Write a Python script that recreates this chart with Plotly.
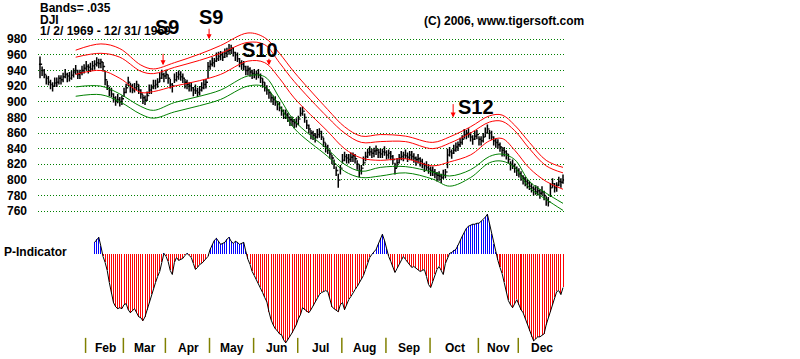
import plotly.graph_objects as go

W, H_REF = 800, 359
H = 367          # rendered height; layout positions below are given as fractions of the 359 px reference
ML, MR = 38, 235
PW = W - ML - MR

# ---------------- DJI 1969 daily bars ----------------
close = [
    948, 940, 935, 930, 925, 922, 920, 924, 925, 930, 928, 932, 935, 933, 930, 934, 938, 940, 935, 937, 940, 943,
    945, 944, 942, 946, 948, 950, 949, 951, 945, 928, 920, 915, 910, 905, 902, 903, 900, 904,
    912, 918, 925, 920, 915, 918, 922, 915, 910, 905, 902, 908, 915, 918, 920, 922, 925, 930, 935, 933,
    935, 930, 922, 920, 928, 932, 935, 932, 930, 925, 922, 920, 918, 915, 914, 912, 915, 918, 922, 925, 945,
    948, 950, 952, 955, 958, 960, 957, 962, 965, 966, 968, 963, 960, 955, 950, 948, 945, 940, 942, 938, 936,
    935, 936, 934, 930, 925, 918, 915, 912, 905, 903, 900, 897, 892, 888, 885, 883, 880, 877, 875, 873, 872,
    878, 885, 888, 880, 870, 865, 860, 857, 855, 858, 862, 855, 848, 842, 838, 833, 828, 820, 812, 800, 815,
    825, 830, 828, 826, 829, 831, 827, 820, 812, 815, 822, 830, 835, 836, 834, 837, 838, 835, 833, 836, 835,
    832, 834, 830, 826, 815, 822, 828, 830, 832, 831, 829, 832, 830, 828, 826, 827, 824, 820, 818, 816, 814,
    812, 810, 808, 806, 805, 803, 806, 810, 832, 836, 834, 838, 842, 845, 848, 852, 858, 860, 858, 855, 852, 856, 858,
    852, 850, 855, 860, 865, 860, 855, 850, 848, 845, 842, 838, 836, 833, 826, 820, 818, 815, 812,
    808, 805, 802, 798, 796, 792, 790, 788, 785, 786, 783, 785, 780, 775, 772, 790, 795, 790, 793, 798, 797, 800,
]
high = [
    958, 945, 942, 934, 933, 928, 925, 931, 931, 934, 934, 937, 942, 937, 938, 940, 943, 947, 941, 941, 946, 948,
    952, 948, 950, 952, 953, 957, 955, 955, 951, 940, 927, 919, 918, 911, 907, 910, 906, 908,
    918, 923, 932, 924, 923, 924, 927, 922, 916, 909, 908, 913, 922, 922, 928, 928, 930, 937, 941, 937,
    941, 935, 929, 924, 936, 938, 940, 939, 936, 929, 928, 925, 925, 919, 922, 918, 920, 925, 928, 929, 951,
    953, 957, 956, 963, 964, 965, 964, 968, 969, 974, 973, 970, 964, 963, 956, 953, 952, 946, 946, 944, 941,
    942, 940, 942, 936, 930, 925, 921, 916, 911, 908, 907, 901, 900, 894, 890, 890, 886, 881, 881, 878, 879,
    882, 893, 894, 885, 877, 871, 864, 863, 860, 865, 866, 863, 854, 847, 845, 839, 832, 826, 817, 808, 819,
    833, 836, 833, 833, 835, 835, 833, 825, 819, 819, 830, 836, 840, 843, 840, 841, 844, 840, 840, 840, 843,
    838, 839, 837, 832, 822, 828, 833, 837, 836, 839, 835, 837, 837, 834, 830, 833, 829, 827, 822, 824, 820,
    817, 817, 814, 810, 811, 808, 813, 814, 840, 842, 839, 845, 848, 849, 854, 857, 865, 864, 866, 861, 857, 863, 864,
    856, 856, 860, 867, 871, 864, 863, 856, 853, 852, 848, 842, 842, 838, 833, 824, 826, 821, 817,
    815, 811, 806, 804, 801, 799, 796, 792, 793, 792, 788, 792, 786, 779, 778, 796, 802, 796, 797, 804, 802, 807,
]
low = [
    930, 933, 930, 922, 921, 916, 913, 919, 919, 922, 922, 925, 930, 925, 926, 928, 931, 935, 929, 929, 934, 936,
    940, 936, 938, 940, 941, 945, 943, 943, 939, 921, 915, 907, 906, 899, 895, 898, 894, 896,
    906, 911, 920, 912, 911, 912, 915, 910, 904, 897, 896, 901, 910, 910, 916, 916, 918, 925, 929, 925,
    929, 923, 917, 912, 924, 926, 928, 927, 924, 917, 916, 913, 913, 907, 910, 906, 908, 913, 916, 917, 930,
    941, 945, 944, 951, 952, 953, 952, 956, 957, 960, 961, 958, 952, 951, 944, 941, 940, 934, 934, 932, 929,
    930, 928, 930, 924, 918, 913, 909, 904, 899, 896, 895, 889, 888, 882, 878, 878, 874, 869, 869, 866, 867,
    870, 881, 882, 873, 865, 859, 852, 851, 848, 853, 854, 851, 842, 835, 833, 827, 820, 814, 805, 790, 807,
    821, 824, 821, 821, 823, 823, 821, 813, 803, 807, 818, 824, 828, 831, 828, 829, 832, 828, 828, 828, 831,
    826, 827, 825, 820, 807, 816, 821, 825, 824, 827, 823, 825, 825, 822, 818, 821, 817, 815, 810, 812, 808,
    805, 805, 802, 798, 799, 796, 801, 802, 815, 830, 827, 833, 836, 837, 842, 845, 853, 852, 854, 849, 845, 851, 852,
    844, 844, 848, 855, 859, 852, 851, 844, 841, 840, 836, 830, 830, 826, 821, 812, 814, 809, 805,
    803, 799, 794, 792, 789, 787, 784, 780, 781, 780, 776, 780, 774, 767, 766, 778, 790, 784, 785, 792, 790, 795,
]

# ---------------- Bands (at sample days) ----------------
band_day = [17, 29, 38, 48, 54, 64, 76, 86, 99, 107, 114, 121, 137, 145, 153, 162, 174, 187, 195, 205, 214, 220, 226, 233, 241, 249]
band_top = [966, 974, 968, 947, 942, 950, 961, 972, 988, 982, 962, 938, 890, 868, 856, 858, 856, 848, 855, 868, 882, 883, 870, 848, 825, 816]
band_red2 = [957, 962, 957, 939, 936, 944, 953, 962, 976, 973, 950, 926, 880, 860, 848, 849, 849, 840, 847, 860, 874, 875, 863, 840, 818, 809]
band_red3 = [935, 940, 930, 912, 913, 920, 927, 935, 952, 950, 930, 905, 862, 840, 828, 825, 827, 818, 823, 832, 850, 853, 838, 815, 798, 788]
band_grn1 = [919, 920, 910, 894, 889, 899, 907, 915, 933, 932, 905, 876, 839, 820, 811, 816, 817, 810, 805, 813, 830, 833, 826, 798, 783, 770]
band_grn2 = [907, 909, 900, 884, 879, 887, 895, 903, 920, 919, 895, 866, 830, 811, 803, 805, 809, 801, 792, 803, 822, 824, 816, 790, 775, 761]

# ---------------- P-Indicator ----------------
p_start = 26
p_values = [
    12, 15, 17, 8, -2, -8, -16, -28, -40, -48,
    -52, -54, -53, -54, -50, -49, -55, -58, -56, -54,
    -58, -62, -63, -66, -62, -55, -48, -40, -34, -28,
    -22, -17, -8, 1, -2, -7, -16, -20, -8, -3,
    -6, -5, -4, -1, 1, -1, -3, -9, -15, -13,
    -10, -9, -7, -5, -2, 5, 10, 14, 16, 13,
    10, 11, 12, 15, 17, 13, 11, 13, 12, 10,
    11, 12, 3, -5, -10, -17, -21, -25, -29, -33,
    -38, -43, -47, -57, -65, -70, -74, -76, -79, -80,
    -85, -88, -85, -82, -78, -74, -70, -64, -60, -53,
    -55, -57, -58, -55, -51, -47, -43, -40, -38, -37,
    -36, -37, -44, -52, -54, -56, -57, -50, -48, -55,
    -50, -45, -42, -38, -35, -32, -28, -25, -21, -15,
    -8, -3, 0, 2, 5, 10, 16, 20, 14, 5,
    -2, -7, -13, -18, -14, -10, -5, -2, -5, -8,
    -11, -13, -12, -14, -16, -17, -16, -15, -22, -30,
    -33, -27, -20, -15, -12, -16, -20, -9, -3, 1,
    2, 4, 5, 9, 14, 18, 22, 26, 28, 29,
    30, 30, 31, 31, 33, 34, 37, 40, 31, 20,
    10, 2, -6, -13, -19, -28, -38, -46, -50, -53,
    -49, -45, -50, -55, -58, -64, -70, -76, -82, -86,
    -84, -82, -82, -80, -79, -70, -63, -57, -50, -43,
    -37, -36, -40, -33,
]

# ---------------- Months / signals ----------------
month_names = ["Feb", "Mar", "Apr", "May", "Jun", "Jul", "Aug", "Sep", "Oct", "Nov", "Dec"]
month_start = [22, 40, 60, 81, 102, 123, 144, 165, 186, 209, 228]

signal_names = ["S9", "S9", "S10", "S12"]
signal_day = [58.6, 80.5, 109, 196.7]
signal_level = [946.6, 980, 946.6, 879.7]
signal_text_day = [60.5, 81.4, 104.8, 207.6]
signal_text_pix = [27, 17, 50, 106]
signal_arrow_len = [13, 12, 8, 15]

FONT = "Liberation Sans, Arial, sans-serif"
n_days = len(close)
days = list(range(n_days))
opens = [close[0]] + close[:-1]


def py(pix):
    return 1 - pix / H_REF


def px(pix):
    return (pix - ML) / PW


fig = go.Figure()
fig.add_trace(go.Ohlc(
    x=days, open=opens, high=high, low=low, close=close,
    increasing=dict(line=dict(color="black", width=1.5)),
    decreasing=dict(line=dict(color="black", width=1.5)),
    tickwidth=0.5, xaxis="x", yaxis="y", hoverinfo="skip", showlegend=False,
))
for vals, col in [(band_top, "#ff0000"), (band_red2, "#ff0000"), (band_red3, "#ff0000"),
                  (band_grn1, "#008000"), (band_grn2, "#008000")]:
    fig.add_trace(go.Scatter(x=band_day, y=vals, mode="lines",
                             line=dict(color=col, width=1, shape="spline", smoothing=1.0),
                             xaxis="x", yaxis="y", hoverinfo="skip", showlegend=False))

p_days = list(range(p_start, p_start + len(p_values)))
p_colors = ["rgba(0,0,255,0.99)" if v > 0 else "rgba(255,0,0,0.99)" for v in p_values]
fig.add_trace(go.Bar(x=p_days, y=p_values, marker=dict(color=p_colors, line=dict(width=0)),
                     width=0.48, xaxis="x2", yaxis="y2", hoverinfo="skip", showlegend=False))
fig.add_trace(go.Scatter(x=p_days, y=p_values, mode="lines", line=dict(color="black", width=1),
                         xaxis="x2", yaxis="y2", hoverinfo="skip", showlegend=False))

xr = [-0.95, n_days - 0.05]
shapes = []
for m in month_start:
    shapes.append(dict(type="line", xref="x2", yref="paper", x0=m - 0.3, x1=m - 0.3,
                       y0=py(351), y1=py(336), line=dict(color="#808000", width=1.5)))

annotations = []
bounds = month_start + [n_days]
for k, name in enumerate(month_names):
    mid = (bounds[k] + bounds[k + 1]) / 2
    annotations.append(dict(x=mid, y=py(346), xref="x2", yref="paper", text=name, showarrow=False,
                            xanchor="center", yanchor="middle",
                            font=dict(family=FONT, size=12, color="black", weight="bold")))

for txt, pix, xp in [("Bands= .035", 8, 38), ("DJI", 19.5, 38), ("1/ 2/ 1969 - 12/ 31/ 1969", 30.5, 38),
                     ("(C) 2006, www.tigersoft.com", 21, 422), ("P-Indicator", 251, 2)]:
    annotations.append(dict(x=px(xp), y=py(pix), xref="paper", yref="paper", text=txt, showarrow=False,
                            xanchor="left", yanchor="middle",
                            font=dict(family=FONT, size=12, color="black", weight="bold")))

for name, d, lvl, td, tp, al in zip(signal_names, signal_day, signal_level, signal_text_day,
                                     signal_text_pix, signal_arrow_len):
    annotations.append(dict(x=d, y=lvl, xref="x", yref="y", text="", showarrow=True,
                            arrowhead=2, arrowsize=1, arrowwidth=1, arrowcolor="#ff0000",
                            ax=0, ay=-al))
    annotations.append(dict(x=td, y=py(tp), xref="x", yref="paper", text=name, showarrow=False,
                            xanchor="center", yanchor="middle",
                            font=dict(family=FONT, size=20, color="black", weight="bold")))

fig.update_layout(
    width=W, height=H,
    margin=dict(l=ML, r=MR, t=0, b=0),
    paper_bgcolor="white", plot_bgcolor="white",
    showlegend=False, bargap=0,
    font=dict(family=FONT, size=12, color="black"),
    xaxis=dict(domain=[0, 1], range=xr, showgrid=False, zeroline=False, showticklabels=False,
               ticks="", showline=False, anchor="y", rangeslider=dict(visible=False)),
    yaxis=dict(domain=[py(211), py(30)], range=[758.7, 991.6],
               tickvals=list(range(760, 1000, 20)), showgrid=True, gridcolor="#008000",
               griddash="1px,2px", gridwidth=1, zeroline=False, ticks="", showline=False,
               ticklabelstandoff=10,
               tickfont=dict(family=FONT, size=12, color="black", weight="bold")),
    xaxis2=dict(domain=[0, 1], range=xr, showgrid=False, zeroline=False, showticklabels=False,
                ticks="", showline=False, anchor="y2"),
    yaxis2=dict(domain=[py(350), py(211)], range=[-97, 42], showgrid=False, zeroline=False,
                showticklabels=False, ticks="", showline=False),
    shapes=shapes,
    annotations=annotations,
)

fig.write_html(
    "out.html",
    config={"displayModeBar": False, "responsive": False},
    post_script=(
        "document.documentElement.style.margin='0';document.documentElement.style.padding='0';"
        "document.documentElement.style.overflow='hidden';"
        "document.body.style.margin='0';document.body.style.padding='0';"
        "document.body.style.overflow='hidden';"
    ),
)
